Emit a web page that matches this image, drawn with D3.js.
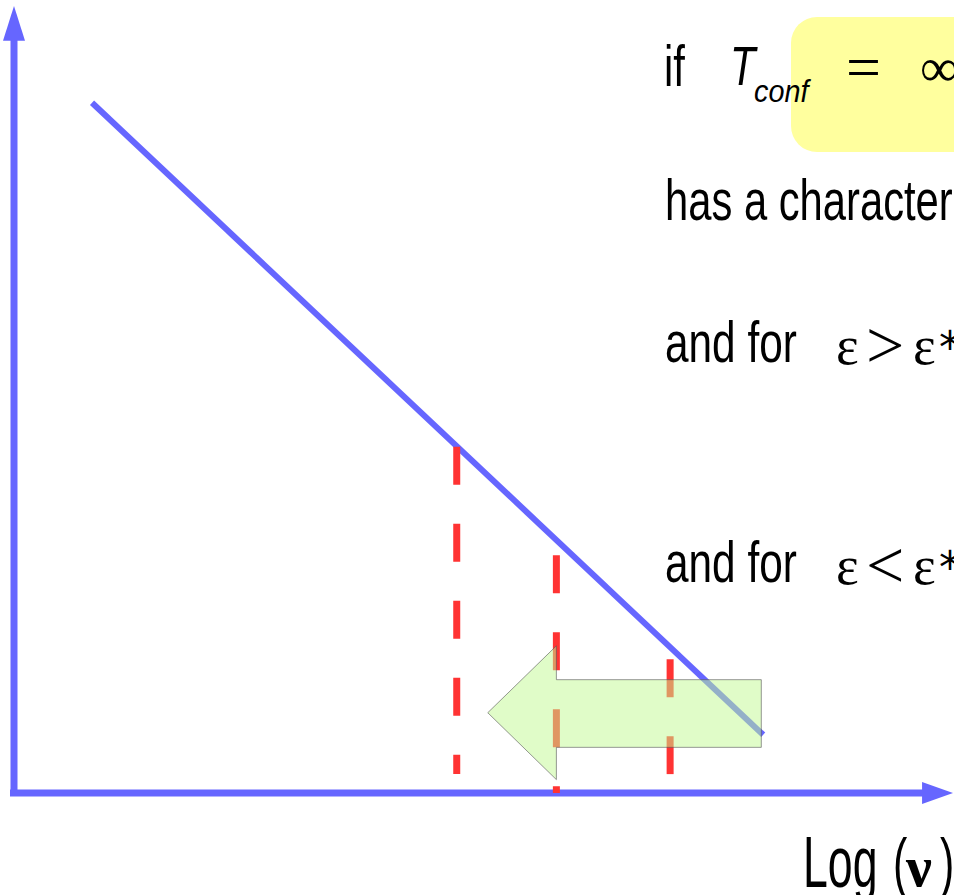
<!DOCTYPE html>
<html>
<head>
<meta charset="utf-8">
<script src="https://cdn.jsdelivr.net/npm/d3@7"></script>
<style>
  html, body { margin: 0; padding: 0; background: #fff; overflow: hidden; }
  svg { display: block; }
  .sans { font-family: "Liberation Sans", Arial, sans-serif; fill: #000; }
  .serif { font-family: "Liberation Serif", "DejaVu Serif", serif; fill: #000; }
  .math { font-family: "DejaVu Sans", sans-serif; fill: #000; }
</style>
</head>
<body>
<div id="chart"></div>
<script>
// abstract units: x = log(nu), y = response
const xDomain = [0, 10];
const yDomain = [0, 10];

// the falling power-law line
const powerLine = [[0.83, 8.77], [7.97, 0.74]];

// red dashed markers: x, top, bottom
const markerX = [4.71, 5.77, 6.98];
const markerTop = [4.40, 3.02, 1.70];
const markerBottom = [0.24, 0.0, 0.24];

// green arrow outline (pointing left)
const arrowPts = [[5.04, 1.02], [5.77, 1.87], [5.77, 1.44], [7.95, 1.44],
                  [7.95, 0.58], [5.77, 0.58], [5.77, 0.17]];

const condWords = ["and for", "and for"];
const condOps = [">", "<"];
const condY = [362, 582];
const axisLabel = "Log";

const width = 954, height = 895;
const axisColor = '#6666ff', dashColor = '#ff3333';

const svg = d3.select('#chart').append('svg')
  .attr('width', width).attr('height', height)
  .attr('viewBox', `0 0 ${width} ${height}`);

const x = d3.scaleLinear(xDomain, [14, 954]);
const y = d3.scaleLinear(yDomain, [793, 6]);

// condensed sans text helper
function condText(tx, ty, str, size, k, italic) {
  const g = svg.append('g').attr('transform', `translate(${tx},${ty}) scale(${k},1)`);
  const t = g.append('text').classed('sans', true).style('font-size', size + 'px').text(str);
  if (italic) t.style('font-style', 'italic');
  return t;
}
function symText(tx, ty, str, size, cls, bold) {
  const t = svg.append('text').classed(cls, true)
    .attr('x', tx).attr('y', ty).style('font-size', size + 'px').text(str);
  if (bold) t.style('font-weight', 'bold');
  return t;
}

// highlight box behind "= ∞"
svg.append('rect')
  .attr('x', 791).attr('y', 17).attr('width', 200).attr('height', 135)
  .attr('rx', 26).attr('ry', 26)
  .attr('fill', '#ffff9e');

// axes
svg.append('line')
  .attr('x1', x(0)).attr('y1', y(0) + 3).attr('x2', x(0)).attr('y2', y(9.6))
  .attr('stroke', axisColor).attr('stroke-width', 7);
svg.append('polygon')
  .attr('points', [[x(0), y(10)], [x(0) - 11, y(9.56)], [x(0) + 11, y(9.56)]].join(' '))
  .attr('fill', axisColor);

svg.append('line')
  .attr('x1', x(0) - 4).attr('y1', y(0)).attr('x2', x(9.7)).attr('y2', y(0))
  .attr('stroke', axisColor).attr('stroke-width', 7);
svg.append('polygon')
  .attr('points', [[x(10) - 1, y(0)], [x(9.66), y(0) - 11], [x(9.66), y(0) + 11]].join(' '))
  .attr('fill', axisColor);

// power-law line
svg.append('path')
  .attr('d', d3.line().x(d => x(d[0])).y(d => y(d[1]))(powerLine))
  .attr('fill', 'none').attr('stroke', axisColor).attr('stroke-width', 6);

// red dashed markers
svg.selectAll('.marker')
  .data(markerX)
  .join('line')
  .classed('marker', true)
  .attr('x1', d => x(d)).attr('x2', d => x(d))
  .attr('y1', (d, i) => y(markerTop[i]))
  .attr('y2', (d, i) => y(markerBottom[i]))
  .attr('stroke', dashColor).attr('stroke-width', 7)
  .attr('stroke-dasharray', '38,39');

// translucent green arrow
svg.append('polygon')
  .attr('points', arrowPts.map(p => [x(p[0]), y(p[1])]).join(' '))
  .attr('fill', 'rgb(193,249,145)').attr('fill-opacity', 0.5)
  .attr('stroke', '#555').attr('stroke-opacity', 0.6).attr('stroke-width', 1);

// first line: if T_conf = ∞
condText(664, 86, 'if', 58, 0.72);
condText(730, 85, 'T', 56, 0.74, true);
condText(754, 102, 'conf', 32, 0.9, true);
symText(846, 88, '=', 62, 'serif');
symText(920, 86, '∞', 54, 'serif');

// second line
condText(665, 220, 'has a characteristic', 58, 0.72);

// conditions
condY.forEach((cy, i) => {
  condText(665, cy, condWords[i], 58, 0.73);
  symText(836, cy + 2, 'ε', 54, 'serif');
  symText(866, cy + 6, condOps[i], 68, 'serif');
  symText(913, cy + 2, 'ε', 54, 'serif');
  symText(939, cy + 1, '*', 44, 'math');
});

// x-axis label
condText(803, 887, axisLabel, 72, 0.62);
condText(893, 885, '(', 66, 0.65);
symText(906, 886, 'ν', 58, 'serif', true);
condText(940, 885, ')', 66, 0.65);
</script>
</body>
</html>
